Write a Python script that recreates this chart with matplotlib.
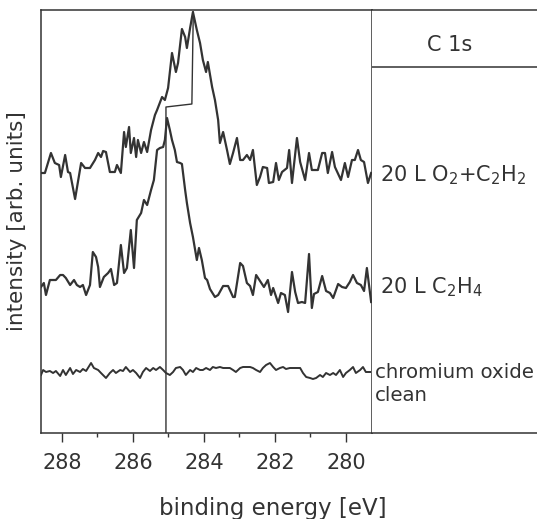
import matplotlib.pyplot as plt
from matplotlib.ticker import MultipleLocator

# C 1s spectra, binding energy [eV] vs intensity [arb. units]
e_mix = [288.59, 288.48, 288.31, 288.20, 288.08, 288.03, 287.91, 287.83, 287.77, 287.63,
         287.55, 287.46, 287.35, 287.21, 287.07, 286.98, 286.90, 286.84, 286.76, 286.65,
         286.51, 286.45, 286.34, 286.25, 286.20, 286.11, 286.06, 285.97, 285.91, 285.86,
         285.77, 285.69, 285.60, 285.49, 285.38, 285.32, 285.18, 285.10, 285.01, 284.90,
         284.79, 284.73, 284.62, 284.53, 284.48, 284.39, 284.31, 284.20, 284.11, 284.03,
         283.94, 283.89, 283.77, 283.69, 283.60, 283.55, 283.46, 283.35, 283.27, 283.18,
         283.07, 282.98, 282.90, 282.79, 282.70, 282.62, 282.51, 282.42, 282.34, 282.22,
         282.17, 282.05, 281.97, 281.89, 281.80, 281.66, 281.60, 281.52, 281.38, 281.29,
         281.15, 281.04, 280.96, 280.79, 280.67, 280.59, 280.51, 280.39, 280.31, 280.14,
         280.03, 279.94, 279.83, 279.75, 279.66, 279.58, 279.49, 279.38, 279.29]
i_mix = [260, 260, 280, 270, 268, 256, 278, 261, 260, 234,
         251, 270, 265, 265, 273, 280, 276, 282, 281, 261,
         261, 268, 260, 301, 286, 306, 280, 295, 276, 293,
         280, 291, 281, 303, 318, 323, 336, 333, 345, 380,
         361, 370, 404, 396, 385, 405, 421, 403, 390, 373,
         361, 371, 346, 333, 313, 290, 301, 283, 269, 280,
         295, 273, 273, 278, 273, 283, 248, 256, 266, 265,
         250, 251, 270, 253, 261, 265, 283, 250, 295, 271,
         253, 280, 263, 263, 280, 280, 260, 281, 266, 253,
         270, 256, 273, 273, 283, 273, 271, 250, 260]

e_eth = [288.59, 288.51, 288.45, 288.34, 288.17, 288.05, 287.97, 287.89, 287.77, 287.66,
         287.58, 287.49, 287.41, 287.32, 287.21, 287.13, 287.04, 286.98, 286.93, 286.82,
         286.70, 286.62, 286.53, 286.45, 286.34, 286.25, 286.17, 286.06, 285.97, 285.89,
         285.77, 285.69, 285.60, 285.49, 285.41, 285.32, 285.24, 285.15, 285.10, 285.04,
         284.96, 284.90, 284.82, 284.76, 284.67, 284.62, 284.53, 284.48, 284.39, 284.31,
         284.20, 284.14, 284.06, 283.97, 283.91, 283.83, 283.69, 283.60, 283.46, 283.32,
         283.18, 283.13, 282.98, 282.90, 282.79, 282.70, 282.62, 282.53, 282.42, 282.31,
         282.20, 282.11, 282.05, 281.91, 281.83, 281.72, 281.63, 281.52, 281.43, 281.35,
         281.24, 281.15, 281.04, 280.96, 280.90, 280.79, 280.67, 280.56, 280.45, 280.36,
         280.22, 280.11, 280.00, 279.89, 279.80, 279.69, 279.58, 279.49, 279.41, 279.29]
i_eth = [146, 150, 138, 153, 153, 158, 158, 155, 148, 153,
         148, 146, 148, 138, 148, 181, 176, 166, 146, 156,
         160, 164, 148, 150, 188, 160, 165, 203, 165, 213,
         220, 233, 228, 243, 253, 283, 285, 286, 293, 315,
         303, 293, 283, 271, 270, 269, 243, 230, 210, 196,
         173, 185, 173, 155, 153, 144, 136, 138, 147, 147,
         136, 136, 170, 167, 150, 147, 138, 158, 152, 146,
         153, 138, 145, 130, 140, 138, 121, 161, 141, 130,
         131, 130, 179, 125, 139, 141, 157, 142, 140, 135,
         149, 146, 145, 151, 158, 150, 148, 142, 165, 131]

e_clean = [288.59, 288.53, 288.45, 288.34, 288.25, 288.17, 288.05, 287.97, 287.89, 287.77,
           287.69, 287.60, 287.49, 287.41, 287.32, 287.18, 287.10, 286.98, 286.90, 286.76,
           286.65, 286.56, 286.48, 286.36, 286.28, 286.20, 286.08, 286.00, 285.91, 285.80,
           285.72, 285.63, 285.52, 285.43, 285.35, 285.24, 285.15, 285.07, 284.96, 284.87,
           284.79, 284.67, 284.59, 284.51, 284.39, 284.31, 284.22, 284.11, 284.03, 283.94,
           283.83, 283.75, 283.66, 283.55, 283.46, 283.38, 283.27, 283.18, 283.10, 282.98,
           282.90, 282.82, 282.70, 282.62, 282.53, 282.42, 282.34, 282.25, 282.14, 282.05,
           281.97, 281.86, 281.77, 281.69, 281.58, 281.49, 281.41, 281.29, 281.21, 281.12,
           281.01, 280.93, 280.84, 280.73, 280.65, 280.56, 280.45, 280.36, 280.28, 280.17,
           280.08, 280.00, 279.89, 279.80, 279.72, 279.60, 279.52, 279.44, 279.32]
i_clean = [58, 63, 61, 62, 60, 62, 57, 63, 58, 65,
           59, 63, 61, 64, 62, 70, 65, 63, 60, 55,
           60, 63, 60, 63, 62, 66, 61, 63, 60, 55,
           61, 65, 62, 65, 63, 66, 63, 60, 58, 61,
           65, 66, 63, 58, 63, 61, 65, 63, 63, 65,
           63, 66, 65, 66, 65, 65, 65, 63, 61, 65,
           66, 66, 66, 65, 63, 61, 65, 68, 70, 66,
           63, 65, 66, 64, 65, 65, 65, 65, 60, 56,
           55, 54, 55, 58, 56, 60, 58, 60, 58, 63,
           56, 60, 63, 66, 60, 63, 66, 61, 61]

# peak position marker (C2H4 peak -> O2+C2H2 peak)
e_mark = [285.07, 285.07, 284.34, 284.30]
i_mark = [0, 326, 329, 421]

labels = [r"20 L O$_2$+C$_2$H$_2$", r"20 L C$_2$H$_4$", "chromium oxide\nclean"]

plt.rcParams['font.family'] = 'DejaVu Sans'
plt.rcParams['mathtext.fontset'] = 'dejavusans'

fig = plt.figure(figsize=(5.37, 5.19), dpi=100)
ax = fig.add_axes([41 / 537, 86 / 519, 330.5 / 537, 423 / 519])
panel = fig.add_axes([371.5 / 537, 86 / 519, 165.5 / 537, 423 / 519])

lc = '#333333'
ax.plot(e_mix, i_mix, color=lc, lw=1.6)
ax.plot(e_eth, i_eth, color=lc, lw=1.6)
ax.plot(e_clean, i_clean, color=lc, lw=1.4)
ax.plot(e_mark, i_mark, color=lc, lw=1.0)

ax.set_xlim(288.59, 279.28)
ax.set_ylim(0, 423)
ax.set_yticks([])
ax.xaxis.set_major_locator(MultipleLocator(2))
ax.xaxis.set_minor_locator(MultipleLocator(1))
ax.tick_params(axis='x', which='major', direction='out', length=6.5, width=1.0,
               labelsize=15, labelcolor=lc, color=lc, pad=8)
ax.tick_params(axis='x', which='minor', direction='out', length=3, width=1.0, color=lc)
ax.set_ylabel("intensity [arb. units]", fontsize=15.5, color=lc, labelpad=10)
for s in ax.spines.values():
    s.set_color(lc)
    s.set_linewidth(1.1)

fig.text(273 / 537, 10 / 519, "binding energy [eV]", ha='center', va='center',
         fontsize=16.5, color=lc)

# right-hand label panel
panel.set_xlim(0, 1)
panel.set_ylim(0, 423)
panel.set_xticks([])
panel.set_yticks([])
panel.spines['right'].set_visible(False)
panel.spines['left'].set_visible(False)
for s in ['top', 'bottom']:
    panel.spines[s].set_color(lc)
    panel.spines[s].set_linewidth(1.1)
panel.axhline(366, color=lc, lw=1.1)
panel.text(0.47, 388, "C 1s", ha='center', va='center', fontsize=15, color=lc)
panel.text(0.05, 258, labels[0], ha='left', va='center', fontsize=15, color=lc)
panel.text(0.05, 146, labels[1], ha='left', va='center', fontsize=15, color=lc)
panel.text(0.02, 49, labels[2], ha='left', va='center', fontsize=14.2, color=lc,
           linespacing=1.3)

fig.savefig("out.png", dpi=100)
